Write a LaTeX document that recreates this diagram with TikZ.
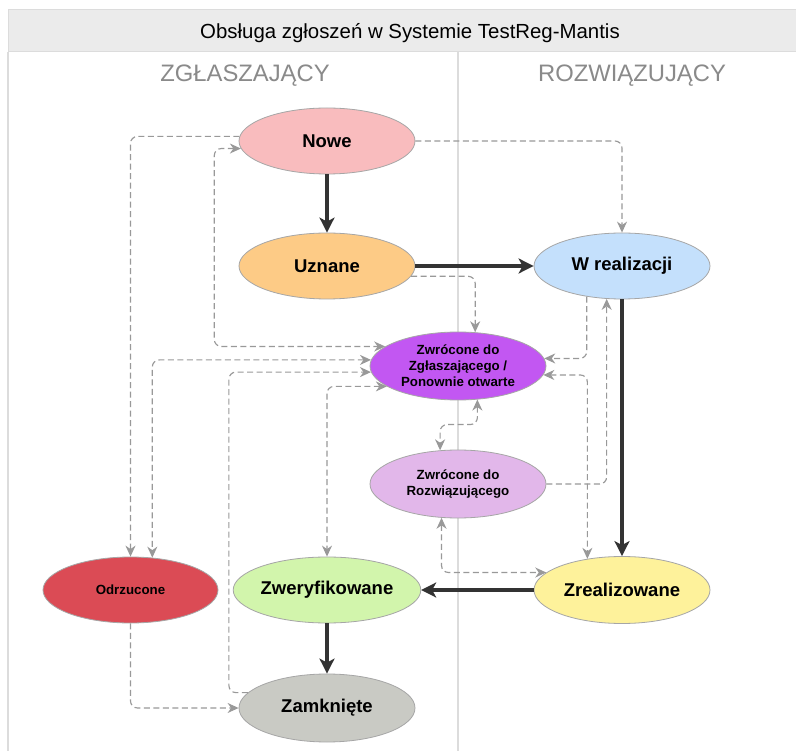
\documentclass[tikz,border=0pt]{standalone}
\usepackage{fontspec}
\setmainfont{Liberation Sans}
\usetikzlibrary{shapes.geometric,arrows.meta,calc}
\definecolor{nodeborder}{HTML}{A6A6A6}
\definecolor{dashgray}{HTML}{999999}
\definecolor{darkline}{HTML}{333333}
\definecolor{headfill}{HTML}{EBEBEB}
\definecolor{laneline}{HTML}{DCDCDC}
\definecolor{lanetext}{HTML}{8A8A8A}
\definecolor{cNowe}{HTML}{F9BCBE}
\definecolor{cUznane}{HTML}{FDCB86}
\definecolor{cWreal}{HTML}{C4E0FC}
\definecolor{cZzg}{HTML}{C257F2}
\definecolor{cZroz}{HTML}{E2B7EA}
\definecolor{cOdrz}{HTML}{DB4B55}
\definecolor{cZwer}{HTML}{D2F5AC}
\definecolor{cZreal}{HTML}{FEF29B}
\definecolor{cZamk}{HTML}{C9CAC4}
\begin{document}
\begin{tikzpicture}[x=1pt,y=-1pt,
  st/.style={ellipse,draw=nodeborder,line width=0.8pt,minimum width=176pt,minimum height=66pt,inner sep=0pt,align=center,text=black,font=\bfseries\fontsize{18.5}{21}\selectfont},
  smalltxt/.style={font=\bfseries\fontsize{13.3}{16}\selectfont},
  dsh/.style={draw=dashgray,line width=1.15pt,dash pattern=on 6pt off 3.5pt,rounded corners=7pt},
  da/.style={dsh,-{Stealth[length=11pt,width=10pt,inset=3.5pt]}},
  dda/.style={dsh,{Stealth[length=11pt,width=10pt,inset=3.5pt]}-{Stealth[length=11pt,width=10pt,inset=3.5pt]}},
  mainarr/.style={draw=darkline,line width=3.5pt,-{Stealth[length=15pt,width=15pt,inset=4pt]}},
  lanelbl/.style={anchor=base,text=lanetext,font=\fontsize{23.8}{26}\selectfont}
]
\useasboundingbox (0,0) rectangle (796,751);
\fill[white] (0,0) rectangle (796,751);

% header and lanes
\draw[laneline,line width=1pt,fill=headfill] (800,10) -- (8,10) -- (8,52) -- (800,52);
\draw[laneline,line width=1.5pt] (8,52) -- (8,755);
\draw[laneline,line width=1.2pt] (458,52) -- (458,755);
\node[anchor=base,font=\fontsize{20.4}{23}\selectfont] (title) at (410,38.5) {Obsługa zgłoszeń w Systemie TestReg-Mantis};
\node[lanelbl] (lane1) at (245,82) {ZGŁASZAJĄCY};
\node[lanelbl] (lane2) at (632,82) {ROZWIĄZUJĄCY};

% states
\node[st,fill=cNowe] (nowe) at (327,141) {Nowe};
\node[st,fill=cUznane] (uznane) at (327,266) {Uznane};
\node[st,fill=cWreal] (wreal) at (622,266) {W realizacji};
\node[st,fill=cZzg,smalltxt,minimum height=68pt] (zzg) at (458,366) {Zwrócone do\\Zgłaszającego /\\Ponownie otwarte};
\node[st,fill=cZroz,smalltxt,minimum height=68pt] (zroz) at (458,484) {Zwrócone do\\Rozwiązującego};
\node[st,fill=cOdrz,smalltxt,minimum width=175pt] (odrz) at (130.5,590) {Odrzucone};
\node[st,fill=cZwer] (zwer) at (327,590) {Zweryfikowane};
\node[st,fill=cZreal,minimum height=67pt] (zreal) at (622,590) {Zrealizowane};
\node[st,fill=cZamk,minimum height=68pt] (zamk) at (327,708) {Zamknięte};

% main flow
\draw[mainarr] (nowe) -- (uznane);
\draw[mainarr] (uznane) -- (wreal);
\draw[mainarr] (wreal) -- (zreal);
\draw[mainarr] (zreal) -- (zwer);
\draw[mainarr] (zwer) -- (zamk);

% dashed transitions
\draw[da] (nowe.east) -| (wreal.north);
\draw[da] (uznane.-7.5) -| (zzg.63);
\draw[da] (wreal.221.8) |- (zzg.5.3);
\draw[da] (zroz.east) -| (wreal.245.2);
\draw[dda] (zzg.-6) -| (zreal.138.3);
\draw[dda] (zroz.244.4) |- (zreal.167.4);
\draw[dda] (zzg.-60.2) -- ++(0,25) -| (zroz.118.4);
\draw[dda] (nowe.185.35) -- ++(-26.6,0) |- (zzg.165.4);
\draw[da] (nowe.177.4) -| (odrz.north);
\draw[dda] (zzg.176) -| (odrz.56.1);
\draw[da] (zamk.169.25) -- ++(-19,0) |- (zzg.184.64);
\draw[dda] (zzg.196.9) -| (zwer.north);
\draw[da] (odrz.south) |- (zamk.west);
\end{tikzpicture}
\end{document}
